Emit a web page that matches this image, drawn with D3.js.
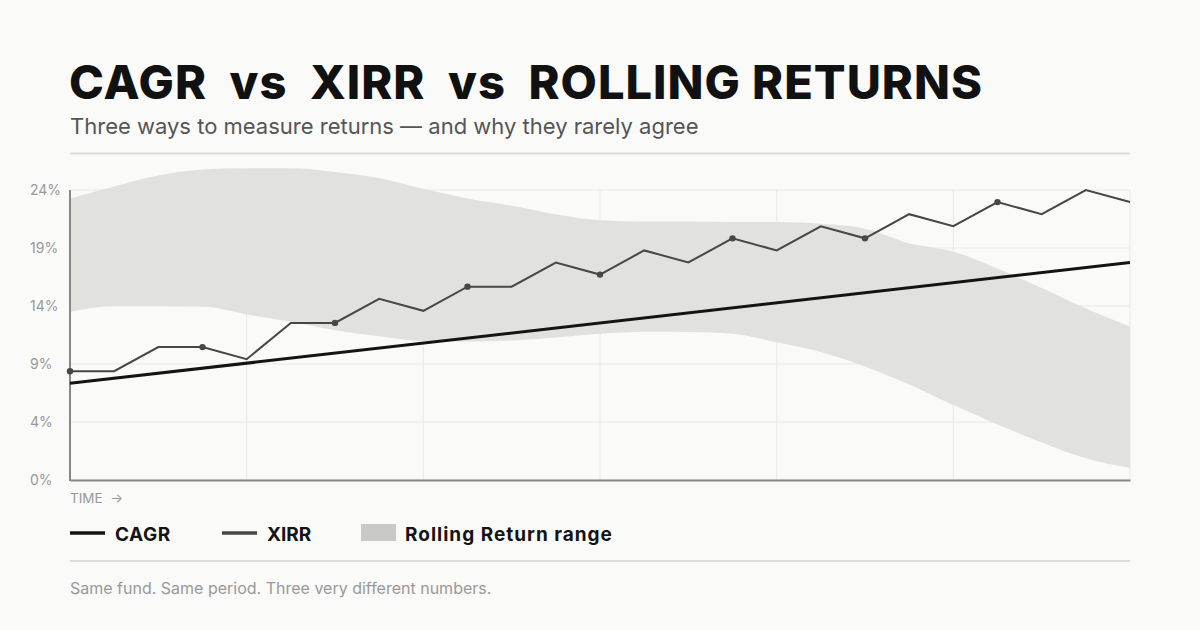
<!DOCTYPE html>
<html>
<head>
<meta charset="utf-8">
<script src="https://cdn.jsdelivr.net/npm/d3@7"></script>
<style>
  html, body { margin: 0; padding: 0; background: #fafaf8; }
  svg { display: block; font-family: Inter, "Noto Sans", sans-serif; }
</style>
</head>
<body>
<svg id="chart" width="1200" height="630"></svg>
<script>
// ---- data ----
const periods = d3.range(25); // time steps 0..24
const xirrValues = [9, 9, 11, 11, 10, 13, 13, 15, 14, 16, 16, 18, 17, 19, 18, 20, 19, 21, 20, 22, 21, 23, 22, 24, 23];
const xirrMarked = [0, 3, 6, 9, 12, 15, 18, 21];
const cagrPeriods = [0, 24];
const cagrValues = [8, 18];
const rollingHigh = [23.3, 24.3, 25.2, 25.7, 25.8, 25.8, 25.5, 25.0, 24.1, 23.3, 22.7, 22.0, 21.5, 21.4, 21.4, 21.35, 21.35, 21.2, 20.8, 19.6, 18.9, 17.5, 15.9, 14.2, 12.7];
const rollingLow  = [13.9, 14.4, 14.4, 14.35, 13.7, 13.1, 12.4, 11.9, 11.5, 11.45, 11.55, 11.8, 12.1, 12.27, 12.25, 12.1, 11.4, 10.6, 9.4, 7.9, 6.2, 4.6, 3.1, 1.8, 1.0];
const yTickValues = [0, 4.8, 9.6, 14.4, 19.2, 24];
const yTickLabels = ["0%", "4%", "9%", "14%", "19%", "24%"];
const xGridPeriods = [0, 4, 8, 12, 16, 20, 24];
const legendItems = ["CAGR", "XIRR", "Rolling Return range"];

const svg = d3.select("#chart");
const W = 1200, H = 630;
const L = 70, R = 1130, T = 190, B = 480;

svg.append("rect").attr("width", W).attr("height", H).attr("fill", "#fafaf8");

// ---- header ----
svg.append("text")
  .attr("x", 69).attr("y", 99)
  .attr("font-size", 47).attr("font-weight", 800)
  .attr("letter-spacing", 1)
  .attr("fill", "#111")
  .style("white-space", "pre")
  .text("CAGR  vs  XIRR  vs  ROLLING RETURNS");

svg.append("text")
  .attr("x", 70).attr("y", 134)
  .attr("font-size", 22)
  .attr("fill", "#555")
  .text("Three ways to measure returns \u2014 and why they rarely agree");

svg.append("line").attr("x1", L).attr("x2", R).attr("y1", 153.5).attr("y2", 153.5)
  .attr("stroke", "#dcdcda").attr("stroke-width", 2);

// ---- scales ----
const x = d3.scaleLinear().domain([0, 24]).range([L, R]);
const y = d3.scaleLinear().domain([0, 24]).range([B, T]);

// ---- grid ----
const grid = svg.append("g");
grid.selectAll("line.h").data(yTickValues).join("line")
  .attr("x1", L).attr("x2", R)
  .attr("y1", d => y(d)).attr("y2", d => y(d))
  .attr("stroke", "#e8e8e5").attr("stroke-width", 1);
grid.selectAll("line.v").data(xGridPeriods).join("line")
  .attr("x1", d => x(d)).attr("x2", d => x(d))
  .attr("y1", T).attr("y2", B)
  .attr("stroke", "#e8e8e5").attr("stroke-width", 1);

// ---- rolling band ----
const band = d3.area()
  .x((d, i) => x(periods[i]))
  .y0((d, i) => y(rollingLow[i]))
  .y1((d, i) => y(rollingHigh[i]))
  .curve(d3.curveMonotoneX);
svg.append("path").datum(periods).attr("d", band).attr("fill", "#e1e1dd");

// ---- axes ----
const yAxis = d3.axisLeft(y).tickValues(yTickValues).tickSize(0)
  .tickFormat((d, i) => yTickLabels[i]);
const gy = svg.append("g").attr("transform", `translate(${L},0)`).call(yAxis);
gy.select(".domain").remove();
gy.selectAll("text")
  .attr("x", -40).attr("text-anchor", "start")
  .attr("font-family", "Inter, sans-serif").attr("font-size", 14).attr("fill", "#999");

const xAxis = d3.axisBottom(x).tickValues([]).tickSize(0).tickSizeOuter(0);
const gx = svg.append("g").attr("transform", `translate(0,${B})`).call(xAxis);
gx.select(".domain").attr("stroke", "#888").attr("stroke-width", 2);

svg.append("line").attr("x1", L).attr("x2", L).attr("y1", T).attr("y2", B + 1)
  .attr("stroke", "#888").attr("stroke-width", 2);

svg.append("text")
  .attr("x", 70).attr("y", 503)
  .attr("font-size", 13.5).attr("fill", "#999")
  .text("TIME  \u2192").style("white-space", "pre");

// ---- lines ----
const cagrLine = d3.line().x((d, i) => x(cagrPeriods[i])).y(d => y(d));
svg.append("path").datum(cagrValues).attr("d", cagrLine)
  .attr("fill", "none").attr("stroke", "#141414").attr("stroke-width", 3);

const xirrLine = d3.line().x((d, i) => x(periods[i])).y(d => y(d));
svg.append("path").datum(xirrValues).attr("d", xirrLine)
  .attr("fill", "none").attr("stroke", "#474747").attr("stroke-width", 2)
  .attr("stroke-linejoin", "miter");

svg.selectAll("circle.xirr").data(xirrMarked).join("circle")
  .attr("cx", d => x(periods[d])).attr("cy", d => y(xirrValues[d]))
  .attr("r", 3.2).attr("fill", "#474747");

// ---- legend ----
const lg = svg.append("g");
lg.append("line").attr("x1", 70).attr("x2", 105).attr("y1", 533).attr("y2", 533)
  .attr("stroke", "#141414").attr("stroke-width", 3.5);
lg.append("text").attr("x", 115).attr("y", 541).attr("font-size", 19).attr("font-weight", 700)
  .attr("letter-spacing", 0.5)
  .attr("fill", "#141414").text(legendItems[0]);
lg.append("line").attr("x1", 222).attr("x2", 257).attr("y1", 533).attr("y2", 533)
  .attr("stroke", "#474747").attr("stroke-width", 3.5);
lg.append("text").attr("x", 267).attr("y", 541).attr("font-size", 19).attr("font-weight", 700)
  .attr("fill", "#141414").text(legendItems[1]);
lg.append("rect").attr("x", 361).attr("y", 524).attr("width", 35).attr("height", 17)
  .attr("fill", "#c9c9c5");
lg.append("text").attr("x", 405).attr("y", 541).attr("font-size", 19).attr("font-weight", 700)
  .attr("letter-spacing", 1)
  .attr("fill", "#141414").text(legendItems[2]);

svg.append("line").attr("x1", L).attr("x2", R).attr("y1", 561).attr("y2", 561)
  .attr("stroke", "#dcdcda").attr("stroke-width", 2);

svg.append("text").attr("x", 70).attr("y", 594)
  .attr("font-size", 16).attr("fill", "#999")
  .text("Same fund. Same period. Three very different numbers.");
</script>
</body>
</html>
